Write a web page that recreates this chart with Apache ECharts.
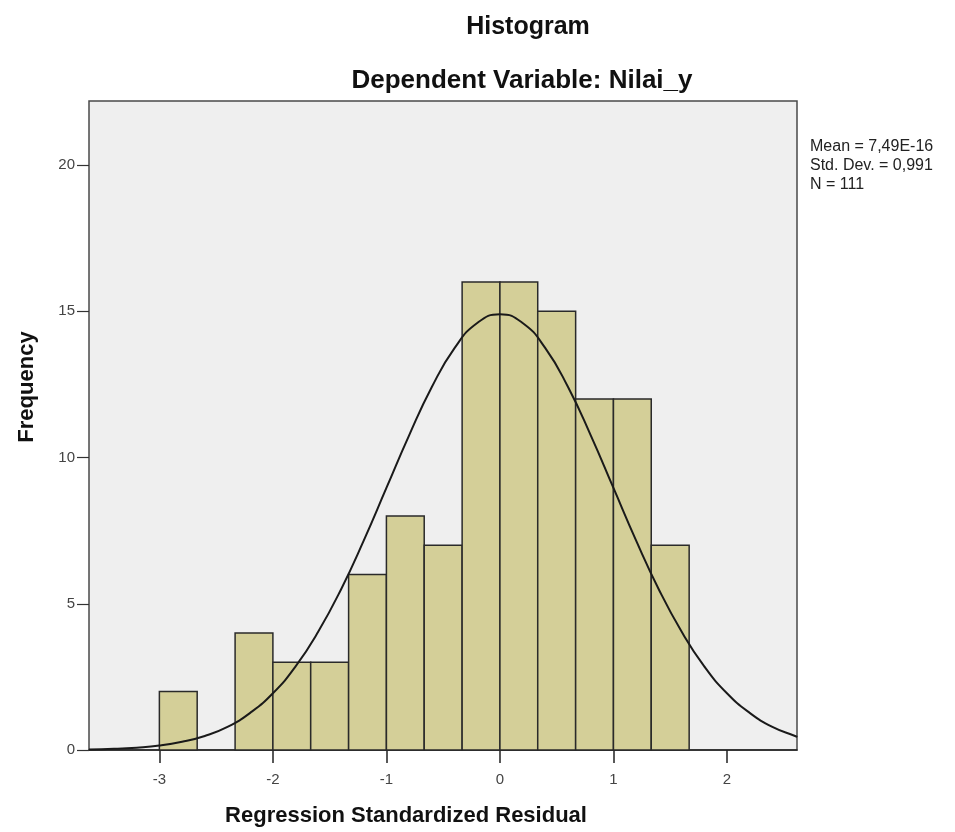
<!DOCTYPE html>
<html><head><meta charset="utf-8">
<script src="https://cdn.jsdelivr.net/npm/echarts@6/dist/echarts.min.js"></script>
<style>html,body{margin:0;padding:0;background:#fff}#c{width:955px;height:832px}</style>
</head><body><div id="c"></div>
<script>
// Histogram bins (Regression Standardized Residual), bin width 1/3
const binLow  = [-3.000, -2.333, -2.000, -1.667, -1.333, -1.000, -0.667, -0.333, 0.000, 0.333, 0.667, 1.000, 1.333];
const binHigh = [-2.667, -2.000, -1.667, -1.333, -1.000, -0.667, -0.333, 0.000, 0.333, 0.667, 1.000, 1.333, 1.667];
const counts  = [2, 4, 3, 3, 6, 8, 7, 16, 16, 15, 12, 12, 7];
// Normal curve points
const curveX = [-3.62, -3.4, -3.2, -3.0, -2.8, -2.6, -2.4, -2.2, -2.0, -1.8, -1.6, -1.4, -1.2, -1.0, -0.8, -0.6, -0.4, -0.2, 0.0, 0.2, 0.4, 0.6, 0.8, 1.0, 1.2, 1.4, 1.6, 1.8, 2.0, 2.2, 2.4, 2.6, 2.62];
const curveY = [0.02, 0.04, 0.08, 0.15, 0.28, 0.48, 0.79, 1.27, 1.94, 2.86, 4.05, 5.49, 7.16, 8.96, 10.76, 12.41, 13.74, 14.60, 14.90, 14.60, 13.74, 12.41, 10.76, 8.96, 7.16, 5.49, 4.05, 2.86, 1.94, 1.27, 0.79, 0.48, 0.45];
const xTicks = [-3, -2, -1, 0, 1, 2];
const yTicks = [0, 5, 10, 15, 20];
const titleText = 'Histogram';
const subtitleText = 'Dependent Variable: Nilai_y';
const xName = 'Regression Standardized Residual';
const yName = 'Frequency';
const stats = ['Mean = 7,49E-16', 'Std. Dev. = 0,991', 'N = 111'];

const FONT = '"Liberation Sans", Arial, sans-serif';
const chart = echarts.init(document.getElementById('c'), null, {renderer: 'canvas'});

const barData = binLow.map((v, i) => [v, binHigh[i], counts[i]]);
const lineData = curveX.map((v, i) => [v, curveY[i]]);

const graphics = [
  {type: 'text', x: 528, y: 27, style: {text: titleText, font: 'bold 25px ' + FONT, fill: '#111', align: 'center', verticalAlign: 'middle'}},
  {type: 'text', x: 522, y: 81, style: {text: subtitleText, font: 'bold 26px ' + FONT, fill: '#111', align: 'center', verticalAlign: 'middle'}},
  {type: 'text', x: 406, y: 816, style: {text: xName, font: 'bold 22px ' + FONT, fill: '#111', align: 'center', verticalAlign: 'middle'}},
  {type: 'text', x: 27, y: 387, rotation: Math.PI / 2, style: {text: yName, font: 'bold 22px ' + FONT, fill: '#111', align: 'center', verticalAlign: 'middle'}}
];
stats.forEach((s, i) => {
  graphics.push({type: 'text', x: 810, y: 147 + i * 19, style: {text: s, font: '16px ' + FONT, fill: '#222', align: 'left', verticalAlign: 'middle'}});
});

chart.setOption({
  animation: false,
  backgroundColor: '#ffffff',
  grid: {left: 89, right: 158, top: 101, bottom: 82, show: true, backgroundColor: '#efefef', borderColor: '#4a4a4a', borderWidth: 1.5},
  xAxis: {
    type: 'value', min: -3.62, max: 2.617,
    splitLine: {show: false},
    axisLine: {show: true, onZero: false, lineStyle: {color: '#222', width: 1.5}},
    axisTick: {show: true, length: 13, customValues: xTicks, lineStyle: {color: '#222', width: 1.5}},
    axisLabel: {customValues: xTicks, margin: 22, fontSize: 15, color: '#444', fontFamily: FONT}
  },
  yAxis: {
    type: 'value', min: 0, max: 22.19, position: 'left',
    splitLine: {show: false},
    axisLine: {show: false, onZero: false},
    axisTick: {show: true, length: 12, customValues: yTicks, lineStyle: {color: '#333', width: 1.2}},
    axisLabel: {customValues: yTicks, margin: 14, fontSize: 15, color: '#444', fontFamily: FONT}
  },
  series: [
    {
      type: 'custom',
      data: barData,
      encode: {x: [0, 1], y: 2},
      renderItem: function (params, api) {
        const p0 = api.coord([api.value(0), api.value(2)]);
        const p1 = api.coord([api.value(1), 0]);
        return {type: 'rect', shape: {x: p0[0], y: p0[1], width: p1[0] - p0[0], height: p1[1] - p0[1]},
                style: {fill: '#d4cf98', stroke: '#2a2a2a', lineWidth: 1.5}};
      },
      z: 2
    },
    {
      type: 'line', data: lineData, smooth: true, showSymbol: false,
      lineStyle: {color: '#1a1a1a', width: 2}, z: 3
    }
  ],
  graphic: graphics
});
</script>
</body></html>
